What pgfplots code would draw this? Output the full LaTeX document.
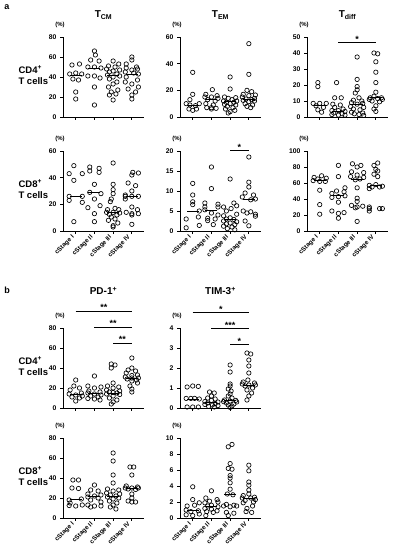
\documentclass[border=0pt]{standalone}
\usepackage{fontspec}
\setmainfont{Liberation Sans}
\usepackage{pgfplots}
\pgfplotsset{compat=1.18}
\pgfplotsset{
 prism/.style={
  scale only axis, width=81pt, height=80pt,
  xmin=-0.68, xmax=3.65, ymin=0,
  axis lines*=left,
  axis line style={line width=0.8pt, black, -},
  tick style={line width=0.8pt, black},
  tick align=outside, major tick length=3pt,
  xtick={0,1,2,3},
  clip=false,
  tick label style={font=\bfseries\fontsize{6.8}{7}\selectfont},
  /pgf/number format/assume math mode=true,
  anchor=south west,
 },
 toprow/.style={xticklabels={,,,}},
 botrow/.style={xticklabels={cStage I,cStage II,cStage III,cStage IV},
   xticklabel style={rotate=45, anchor=east, font=\bfseries\fontsize{6.3}{7}\selectfont}},
 dots/.style={only marks, mark=o, mark size=2.2pt, mark options={line width=0.65pt, black}},
 med/.style={only marks, mark=-, mark size=6pt, mark options={line width=0.8pt, black}},
 sig/.style={black, line width=0.8pt, no marks},
}
\tikzset{
 pct/.style={font=\bfseries\fontsize{6}{7}\selectfont, anchor=south, yshift=6pt, xshift=-3pt},
 star/.style={font=\bfseries\fontsize{9}{9}\selectfont, anchor=base, inner sep=0pt},
 ttl/.style={font=\bfseries\fontsize{10}{12}\selectfont},
 rowlab/.style={font=\bfseries\fontsize{9.5}{11.5}\selectfont, align=left, anchor=west},
}
\begin{document}
\begin{tikzpicture}
\useasboundingbox (0,0) rectangle (395pt,550pt);
% labels
\node[font=\bfseries\fontsize{9}{10}\selectfont] at (7pt,543pt) {a};
\node[font=\bfseries\fontsize{9}{10}\selectfont] at (7pt,260pt) {b};
\node[ttl] at (103.5pt,535pt) {T\textsubscript{CM}};
\node[ttl] at (220.5pt,535pt) {T\textsubscript{EM}};
\node[ttl] at (347.5pt,535pt) {T\textsubscript{diff}};
\node[ttl] at (103.5pt,259pt) {PD-1\textsuperscript{+}};
\node[ttl] at (220.5pt,259pt) {TIM-3\textsuperscript{+}};
\node[rowlab] at (15pt,475pt) {CD4\textsuperscript{+}\\T cells};
\node[rowlab] at (15pt,361pt) {CD8\textsuperscript{+}\\T cells};
\node[rowlab] at (15pt,184pt) {CD4\textsuperscript{+}\\T cells};
\node[rowlab] at (15pt,74pt) {CD8\textsuperscript{+}\\T cells};

% ---------- a, CD4, TCM
\begin{axis}[prism, toprow, at={(63pt,433pt)}, ymax=80, ytick={0,20,40,60,80}]
\addplot[dots] coordinates {(-0.2,52) (0.2,53) (-0.32,43) (0,44) (0.32,43) (-0.15,38) (0.15,37) (0,25) (0,18)
 (1,66) (1.05,62) (0.8,57) (1.25,56) (0.65,50) (1,50) (1.35,49) (0.65,41) (1,41) (1.3,39) (1,30) (1,12)
 (2,56) (2.3,53) (1.75,51) (2.1,50) (1.65,48) (2.35,47) (2,46) (1.8,45) (2.2,43) (1.7,42) (2.35,41) (2,40) (1.8,38) (2.2,35) (2,33) (1.75,30) (2.25,27) (1.9,25) (2.15,23) (1.8,22) (2,17)
 (3,60) (3,57) (2.7,53) (3.25,50) (2.7,49) (3.3,48) (3,47) (2.65,45) (3.1,44) (3.35,43) (2.7,40) (3.3,37) (2.65,35) (3,33) (3.35,30) (2.8,28) (3.2,25) (3,22) (3,18)};
\addplot[med] coordinates {(0,42) (1,49) (2,42) (3,43)};
\node[pct] at (rel axis cs:0,1) {(\%)};
\end{axis}

% ---------- a, CD4, TEM
\begin{axis}[prism, toprow, at={(180pt,433pt)}, ymax=60, ytick={0,20,40,60}]
\addplot[dots] coordinates {(0,33.5) (0,17) (-0.15,13) (-0.35,10) (0.35,10) (-0.15,9) (0.15,8.5) (-0.2,6) (0.2,6) (0,5)
 (1.05,20.5) (0.7,17) (1.3,16) (0.65,15) (1,15) (1.35,14) (0.8,13) (1.2,12) (0.7,10) (1.1,9) (0.75,7) (1,7) (1.25,6.5) (1,6)
 (2,30) (2,21) (1.7,15) (2.3,14.5) (1.9,14) (2.1,13) (1.65,12) (2.35,12) (1.8,11) (2.2,11) (2,10) (1.7,9.5) (2.3,9) (1.85,8) (2.15,7) (1.75,6) (2.25,5) (2,4) (1.9,3)
 (3,55) (3,32) (2.9,20) (3.15,19) (2.7,17) (3.35,16.5) (3,16) (2.65,15) (3.3,14) (2.85,13.5) (3.15,13) (2.7,12.5) (3.3,12) (3,11.5) (2.8,10) (3.2,9) (2.9,8) (3.1,7)};
\addplot[med] coordinates {(0,9) (1,13) (2,11.5) (3,13)};
\node[pct] at (rel axis cs:0,1) {(\%)};
\end{axis}

% ---------- a, CD4, Tdiff
\begin{axis}[prism, toprow, at={(307pt,433pt)}, ymax=50, ytick={0,10,20,30,40,50}]
\addplot[dots] coordinates {(-0.1,21.5) (-0.1,19) (-0.35,8.5) (0,8.5) (0.35,8.5) (-0.2,7) (0.2,6) (-0.1,4.5) (0.1,3)
 (0.9,21.5) (0.8,12) (1.15,12) (0.7,8) (1.1,7.5) (0.8,6) (1.25,5) (0.65,4) (1,4) (1.35,3.5) (0.75,2.5) (1.2,2) (0.65,1.5) (1,1.2) (1.35,1.2)
 (2,37.5) (2,23.5) (2,19) (2,17) (1.9,15) (2.1,12) (1.8,10.5) (2.25,10) (1.7,9) (2.3,8.5) (2,8) (1.65,6.5) (2.35,6) (1.8,5) (2.15,4.5) (1.7,3) (2.3,2.5) (1.85,2) (2.1,1.5) (2.35,1)
 (2.9,40) (3.1,39.5) (3,34.5) (3,28) (3,21.5) (3,15.5) (2.9,13) (2.7,12) (3.3,12) (3.1,11.5) (2.65,11) (3.35,11) (2.8,10) (3.2,9.5) (3,7) (2.9,5) (3,3.5)};
\addplot[med] coordinates {(0,7) (1,3.5) (2,8) (3,12)};
\addplot[sig] coordinates {(1,46.5) (3,46.5)};
\node[star] at (axis cs:2,46.5) {*};
\node[pct] at (rel axis cs:0,1) {(\%)};
\end{axis}

% ---------- a, CD8, TCM
\begin{axis}[prism, botrow, at={(63pt,319pt)}, ymax=60, ytick={0,20,40,60}]
\addplot[dots] coordinates {(-0.1,49) (-0.35,43) (0.35,43) (-0.1,38) (-0.35,26) (0.35,26) (-0.35,23) (0.35,21.5) (-0.1,7)
 (0.75,48) (1.25,47) (0.75,45) (1.25,44) (1,35) (0.75,29) (1.35,28) (1,24) (1.3,19) (0.65,17.5) (1,13) (1,7)
 (2,51) (2,35) (2,31) (2,28) (1.9,24) (1.85,22) (2.1,17) (1.7,16) (2.3,16) (1.65,14) (2,14) (2.35,13.5) (1.8,12.5) (2.2,12) (1.9,10.5) (2.1,9) (1.75,8) (2.25,6) (2,4) (2,3)
 (3.05,44) (3.35,43.5) (3,42) (2.8,36) (3.2,34) (3,30) (2.65,27) (2.65,26) (3,26) (3.35,26) (2.65,24) (3,18) (3.3,16) (2.7,14) (3,13) (3.35,13) (3,12) (3,5)};
\addplot[med] coordinates {(0,26) (1,29) (2,14) (3,26)};
\node[pct] at (rel axis cs:0,1) {(\%)};
\end{axis}

% ---------- a, CD8, TEM
\begin{axis}[prism, botrow, at={(180pt,319pt)}, ymax=20, ytick={0,5,10,15,20}]
\addplot[dots] coordinates {(0,11.9) (0,9) (0,7.3) (0,6.6) (0.35,5) (-0.35,3) (0.3,3.5) (0.35,1.4) (-0.35,0.8)
 (1,16) (1,10.6) (0.65,7) (1.35,6.7) (0.65,6) (1.35,6) (0.65,5.3) (1,4.5) (1.35,4) (0.8,3.2) (1.2,3) (0.8,2.6) (1.1,1.6)
 (2,13) (2.2,7) (2.35,6.3) (1.65,6) (2.05,5.6) (1.8,5) (2.35,4.2) (1.65,3.8) (2,3.3) (1.8,3) (2.2,2.9) (1.65,2.5) (2.35,2.3) (2,2) (1.8,1.8) (2.25,1.6) (1.65,1.2) (2.1,1) (1.85,0.6) (2.25,0.3)
 (3,18.5) (3,12.2) (3,11) (2.8,9.5) (3.25,9) (2.65,8.5) (3.35,8) (3.1,7.8) (2.7,5) (3.1,4.8) (2.9,4.5) (3.35,4.2) (3.35,3.7) (2.8,2.5) (3,1.3)};
\addplot[med] coordinates {(0,5) (1,5.2) (2,3) (3,7.8)};
\addplot[sig] coordinates {(2,20.2) (3,20.2)};
\node[star] at (axis cs:2.5,20.2) {*};
\node[pct] at (rel axis cs:0,1) {(\%)};
\end{axis}

% ---------- a, CD8, Tdiff
\begin{axis}[prism, botrow, at={(307pt,319pt)}, ymax=100, ytick={0,20,40,60,80,100}]
\addplot[dots] coordinates {(-0.3,67) (0.1,69) (-0.1,65) (0.35,66) (-0.35,63) (0,62) (0.3,62) (0,51) (0,33) (0,21)
 (1,82) (1,68) (1.35,54) (0.9,50) (1.3,49) (0.65,47) (1.35,44) (1,43) (0.65,42) (1,36) (0.65,25) (1.3,23) (1,22) (1,16)
 (1.75,84) (2.2,82) (2,80) (1.7,74) (2.35,73) (2,70) (1.65,68) (2.35,67) (2.15,65) (1.9,64) (2,54) (2,41) (2,37) (1.7,32) (2.3,31) (2,30) (1.9,29) (2,12)
 (3.1,85) (2.9,82) (3,77) (3.1,75) (2.9,71) (3.1,68) (3,58) (2.65,57) (3.35,56) (2.8,55) (3.2,55) (2.65,53) (2.65,30) (2.65,28) (3.2,28) (3.35,28) (2.65,25)};
\addplot[med] coordinates {(0,63) (1,44) (2,64) (3,57)};
\node[pct] at (rel axis cs:0,1) {(\%)};
\end{axis}

% ---------- b, CD4, PD-1
\begin{axis}[prism, toprow, at={(63pt,142pt)}, ymax=80, ytick={0,20,40,60,80}]
\addplot[dots] coordinates {(0,28) (-0.1,22) (0.2,20) (-0.3,18) (0.3,15) (-0.35,14) (0,13) (0.35,12) (-0.2,11) (0.2,10) (0,7)
 (1,32) (0.65,22) (1.35,21) (1,20) (0.7,17) (1.3,16) (0.65,15) (1,14) (1.35,13) (0.8,12) (1.2,11) (0.65,9.5) (1,9) (1.3,8)
 (1.9,44) (2.1,43) (1.9,40) (2,25) (1.7,22) (2.3,21) (2,20) (1.65,18) (2.35,17) (1.8,16) (2,15.5) (2.2,15) (1.65,14) (2.35,13.5) (2,12) (1.8,10) (2.2,8) (2,6) (1.9,4)
 (3,50) (3,40) (2.8,38) (3.2,37) (2.7,35) (3.3,33) (3,32.5) (2.65,31) (3.35,30) (3,30) (2.75,29) (3.25,28) (3,27) (3.3,25) (2.9,22) (3,19) (3,16)};
\addplot[med] coordinates {(0,14) (1,14.5) (2,15) (3,30)};
\addplot[sig] coordinates {(0,97) (3,97)};
\addplot[sig] coordinates {(1,81) (3,81)};
\addplot[sig] coordinates {(2,65) (3,65)};
\node[star] at (axis cs:1.5,97) {**};
\node[star] at (axis cs:2,81) {**};
\node[star] at (axis cs:2.5,65) {**};
\node[pct] at (rel axis cs:0,1) {(\%)};
\end{axis}

% ---------- b, CD4, TIM-3
\begin{axis}[prism, toprow, at={(180pt,142pt)}, ymax=4, ytick={0,1,2,3,4}]
\addplot[dots] coordinates {(-0.3,1.05) (0,1.1) (0.3,1.08) (-0.35,0.48) (-0.1,0.48) (0.1,0.48) (0.35,0.45) (-0.3,0.05) (0,0.05) (0.3,0.05)
 (0.9,0.8) (1.15,0.75) (1,0.6) (0.8,0.5) (1.2,0.45) (1,0.38) (0.65,0.32) (1.35,0.3) (0.8,0.25) (1.2,0.22) (0.65,0.18) (1.05,0.15) (1.35,0.12) (0.85,0.08) (1.15,0.05)
 (2,2.15) (2,1.8) (2,1.2) (2,1.1) (1.9,0.95) (2.05,0.85) (2,0.7) (1.9,0.6) (2.1,0.5) (1.7,0.4) (2.3,0.38) (2,0.35) (1.65,0.32) (2.35,0.3) (1.8,0.25) (2.2,0.2) (1.9,0.15) (2.1,0.1) (2,0.03)
 (2.9,2.75) (3.1,2.7) (3,2.4) (3,2.1) (3,1.75) (2.95,1.4) (2.7,1.3) (3.3,1.25) (2.65,1.2) (3.35,1.15) (3,1.15) (2.8,1.1) (3.2,1.0) (2.9,0.9) (3.15,0.75) (3,0.6) (2.9,0.4)};
\addplot[med] coordinates {(0,0.45) (1,0.3) (2,0.4) (3,1.15)};
\addplot[sig] coordinates {(0,4.8) (3,4.8)};
\addplot[sig] coordinates {(1,4.0) (3,4.0)};
\addplot[sig] coordinates {(2,3.2) (3,3.2)};
\node[star] at (axis cs:1.5,4.8) {*};
\node[star] at (axis cs:2,4.0) {***};
\node[star] at (axis cs:2.5,3.2) {*};
\node[pct] at (rel axis cs:0,1) {(\%)};
\end{axis}

% ---------- b, CD8, PD-1
\begin{axis}[prism, botrow, at={(63pt,32pt)}, ymax=80, ytick={0,20,40,60,80}]
\addplot[dots] coordinates {(-0.15,38) (0.15,38) (-0.2,30) (0.15,29.5) (0.3,19) (-0.35,18) (-0.3,15) (0.35,13) (-0.35,12.5) (0,12)
 (1,33) (0.8,28) (1.2,27) (0.65,24) (1.35,23) (1,22) (0.65,21) (1.2,20) (0.8,18) (1.35,16) (0.65,13) (1,12) (1.35,12) (0.8,11)
 (2,65) (2,57) (2,43) (2,35) (1.7,29) (2.3,28) (2,27) (1.65,25) (2.35,24) (1.85,23) (2.15,22) (1.7,21) (2.3,20) (2,19) (1.8,17) (2.2,15) (2,13) (1.85,11) (2.15,9)
 (2.9,51) (3.1,51) (3,43) (2.7,32) (3.3,31) (2.65,30) (3.35,30) (3,30) (2.8,29) (3.2,28.5) (3,24) (3,20) (2.8,17) (3.2,16) (3,16)};
\addplot[med] coordinates {(0,19) (1,22) (2,22) (3,30)};
\node[pct] at (rel axis cs:0,1) {(\%)};
\end{axis}

% ---------- b, CD8, TIM-3
\begin{axis}[prism, botrow, at={(180pt,32pt)}, ymax=10, ytick={0,2,4,6,8,10}]
\addplot[dots] coordinates {(0,3.9) (0,2.3) (0.35,1.9) (-0.3,1.5) (0.1,1.6) (-0.35,1.0) (0.3,0.9) (-0.1,0.8) (0.35,0.5) (-0.35,0.4) (0,0.3)
 (1,3.4) (0.7,2.5) (1.3,2.3) (0.9,2.1) (1.35,2.0) (0.65,1.9) (1,1.6) (0.8,1.5) (1.35,1.4) (0.65,1.2) (1,1.1) (1.3,0.9) (0.75,0.8) (1.1,0.7) (0.7,0.3)
 (2.1,9.2) (1.9,8.9) (2,6.8) (1.9,6.2) (2.1,6.1) (2,5.3) (2,5.0) (2,4.4) (2,3.6) (1.85,3.0) (2.15,2.9) (1.8,1.7) (2.2,1.6) (1.65,1.5) (2.35,1.5) (2,1.4) (1.8,0.7) (2.2,0.6) (1.9,0.3)
 (3,6.6) (3,5.9) (3,4.5) (3,4.1) (3,3.5) (3,3.0) (2.7,2.8) (3.3,2.6) (2.65,2.5) (3.1,2.5) (3.35,2.3) (2.8,2.2) (3.25,2.0) (2.7,1.9) (3.2,1.5) (2.9,1.2) (2.85,0.8) (3.15,0.7)};
\addplot[med] coordinates {(0,0.9) (1,1.5) (2,2.9) (3,2.5)};
\node[pct] at (rel axis cs:0,1) {(\%)};
\end{axis}
\end{tikzpicture}
\end{document}
